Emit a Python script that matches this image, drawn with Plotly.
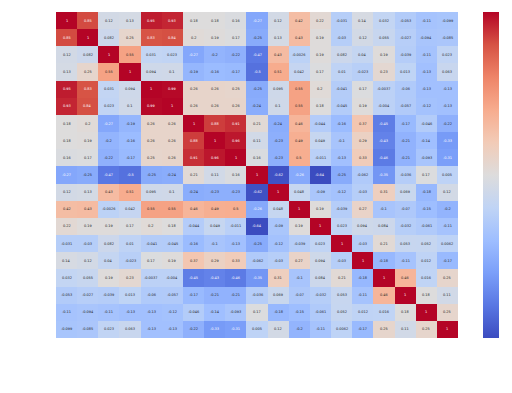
import plotly.graph_objects as go

labels = [f"v{i}" for i in range(19)]
r0 = [1, 0.85, 0.12, 0.13, 0.95, 0.93, 0.18, 0.18, 0.16, -0.27, 0.12, 0.42, 0.22, -0.031, 0.14, 0.032, -0.053, -0.11, -0.099]
r1 = [0.85, 1, 0.082, 0.25, 0.83, 0.84, 0.2, 0.19, 0.17, -0.25, 0.13, 0.43, 0.19, -0.03, 0.12, 0.055, -0.027, -0.094, -0.085]
r2 = [0.12, 0.082, 1, 0.55, 0.031, 0.023, -0.27, -0.2, -0.22, -0.47, 0.43, -0.0026, 0.19, 0.082, 0.04, 0.19, -0.039, -0.11, 0.023]
r3 = [0.13, 0.25, 0.55, 1, 0.094, 0.1, -0.19, -0.16, -0.17, -0.5, 0.51, 0.042, 0.17, 0.01, -0.023, 0.23, 0.013, -0.13, 0.063]
r4 = [0.95, 0.83, 0.031, 0.094, 1, 0.99, 0.26, 0.26, 0.25, -0.25, 0.095, 0.55, 0.2, -0.041, 0.17, -0.0037, -0.06, -0.13, -0.13]
r5 = [0.93, 0.84, 0.023, 0.1, 0.99, 1, 0.26, 0.26, 0.26, -0.24, 0.1, 0.55, 0.18, -0.045, 0.19, -0.004, -0.057, -0.12, -0.13]
r6 = [0.18, 0.2, -0.27, -0.19, 0.26, 0.26, 1, 0.88, 0.91, 0.21, -0.24, 0.46, -0.044, -0.16, 0.37, -0.45, -0.17, -0.046, -0.22]
r7 = [0.18, 0.19, -0.2, -0.16, 0.26, 0.26, 0.88, 1, 0.96, 0.11, -0.23, 0.49, 0.049, -0.1, 0.29, -0.43, -0.21, -0.14, -0.33]
r8 = [0.16, 0.17, -0.22, -0.17, 0.25, 0.26, 0.91, 0.96, 1, 0.16, -0.23, 0.5, -0.011, -0.13, 0.33, -0.46, -0.21, -0.093, -0.31]
r9 = [-0.27, -0.25, -0.47, -0.5, -0.25, -0.24, 0.21, 0.11, 0.16, 1, -0.62, -0.26, -0.64, -0.25, -0.062, -0.35, -0.036, 0.17, 0.005]
r10 = [0.12, 0.13, 0.43, 0.51, 0.095, 0.1, -0.24, -0.23, -0.23, -0.62, 1, 0.048, -0.09, -0.12, -0.03, 0.31, 0.069, -0.18, 0.12]
r11 = [0.42, 0.43, -0.0026, 0.042, 0.55, 0.55, 0.46, 0.49, 0.5, -0.26, 0.048, 1, 0.19, -0.039, 0.27, -0.1, -0.07, -0.15, -0.2]
r12 = [0.22, 0.19, 0.19, 0.17, 0.2, 0.18, -0.044, 0.049, -0.011, -0.64, -0.09, 0.19, 1, 0.023, 0.094, 0.084, -0.032, -0.061, -0.11]
r13 = [-0.031, -0.03, 0.082, 0.01, -0.041, -0.045, -0.16, -0.1, -0.13, -0.25, -0.12, -0.039, 0.023, 1, -0.03, 0.21, 0.053, 0.052, 0.0062]
r14 = [0.14, 0.12, 0.04, -0.023, 0.17, 0.19, 0.37, 0.29, 0.33, -0.062, -0.03, 0.27, 0.094, -0.03, 1, -0.18, -0.11, 0.012, -0.17]
r15 = [0.032, 0.055, 0.19, 0.23, -0.0037, -0.004, -0.45, -0.43, -0.46, -0.35, 0.31, -0.1, 0.084, 0.21, -0.18, 1, 0.46, 0.016, 0.25]
r16 = [-0.053, -0.027, -0.039, 0.013, -0.06, -0.057, -0.17, -0.21, -0.21, -0.036, 0.069, -0.07, -0.032, 0.053, -0.11, 0.46, 1, 0.18, 0.11]
r17 = [-0.11, -0.094, -0.11, -0.13, -0.13, -0.12, -0.046, -0.14, -0.093, 0.17, -0.18, -0.15, -0.061, 0.052, 0.012, 0.016, 0.18, 1, 0.25]
r18 = [-0.099, -0.085, 0.023, 0.063, -0.13, -0.13, -0.22, -0.33, -0.31, 0.005, 0.12, -0.2, -0.11, 0.0062, -0.17, 0.25, 0.11, 0.25, 1]
rows = [r0, r1, r2, r3, r4, r5, r6, r7, r8, r9, r10, r11, r12, r13, r14, r15, r16, r17, r18]

coolwarm = ["#3b4cc0", "#5977e3", "#7b9ff9", "#9ebeff", "#c0d4f5", "#dddcdc",
            "#f2cbb7", "#f7ac8e", "#ee8468", "#d65244", "#b40426"]
scale = [[i / 10, c] for i, c in enumerate(coolwarm)]

fig = go.Figure(go.Heatmap(
    z=rows, x=labels, y=labels, zmin=-0.64, zmax=1,
    colorscale=scale,
    colorbar=dict(thickness=16, len=1, lenmode="fraction", x=1.062, xanchor="left",
                  y=0.5, yanchor="middle", outlinewidth=0, ticks="", showticklabels=False,
                  xpad=0, ypad=0),
))
for row_label, row in zip(labels, rows):
    for col_label, v in zip(labels, row):
        fig.add_annotation(
            x=col_label, y=row_label, text=f"{v:.2g}", showarrow=False,
            font=dict(size=3.5, family="DejaVu Sans",
                      color="white" if (v <= -0.26 or v > 0.8) else "#262626"),
        )
fig.update_layout(
    width=496, height=377,
    margin=dict(l=48, r=46, t=4, b=47, autoexpand=False),
    paper_bgcolor="white", plot_bgcolor="white",
    xaxis=dict(visible=False),
    yaxis=dict(visible=False, autorange="reversed"),
)
fig.write_html("out.html")
